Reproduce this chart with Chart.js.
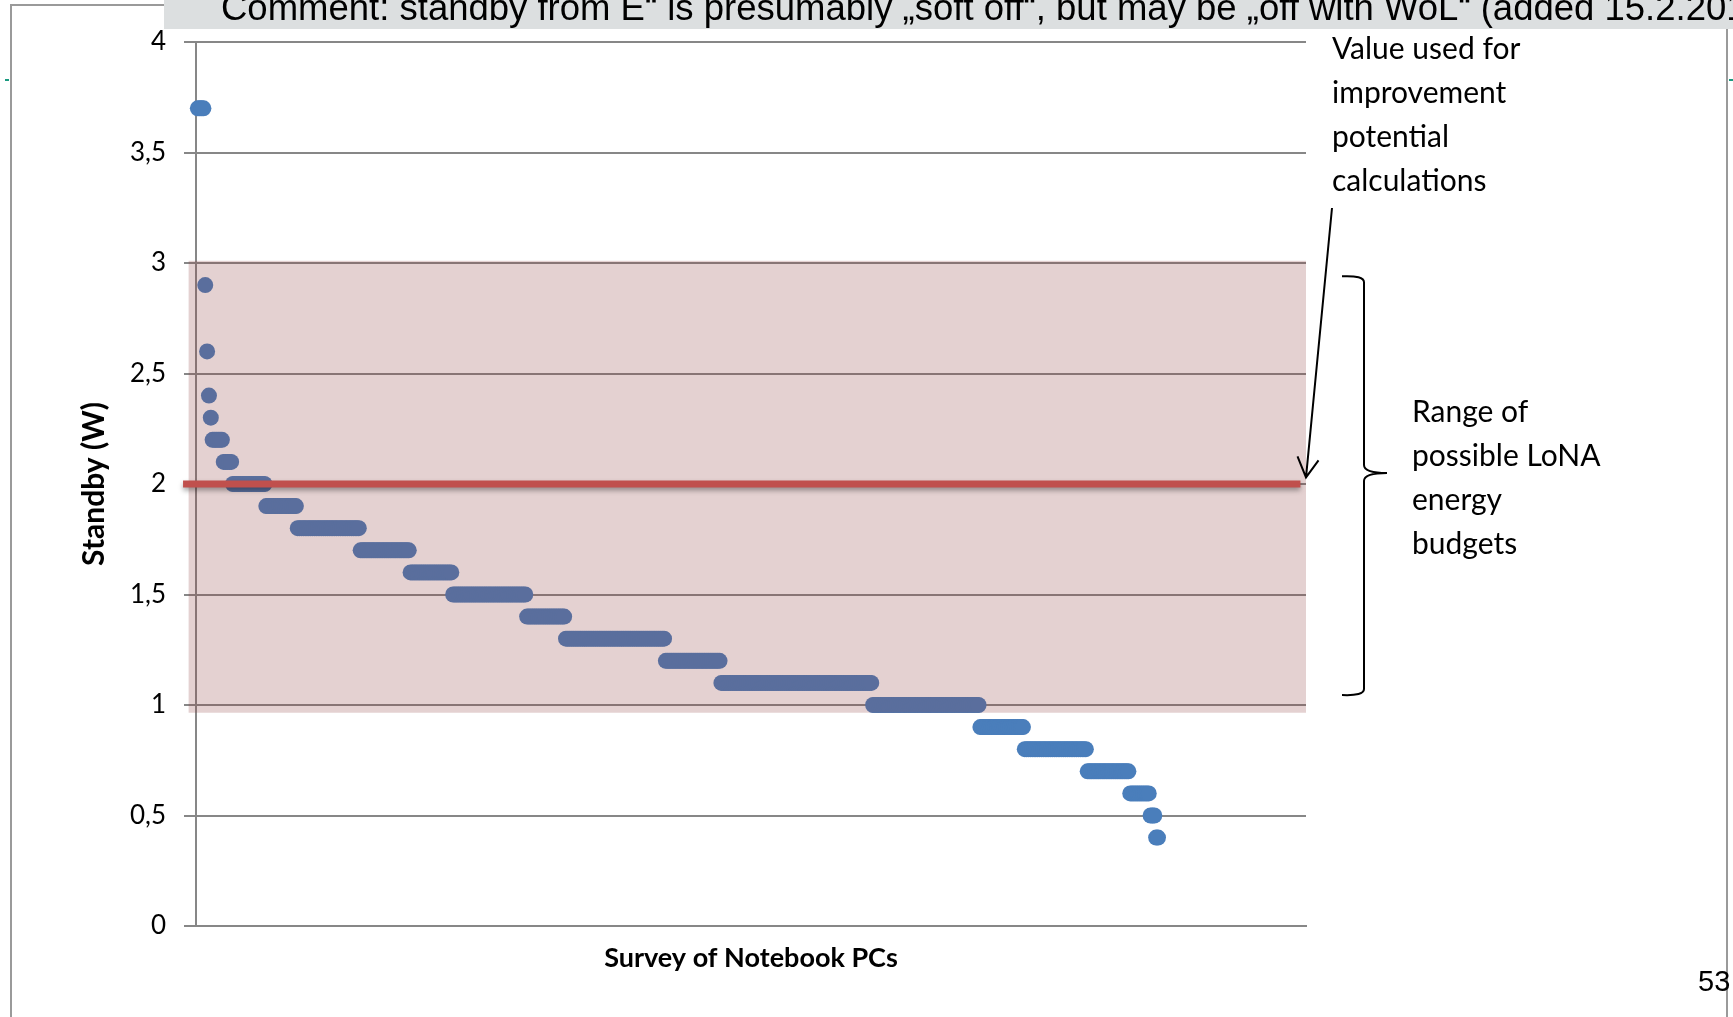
<!DOCTYPE html>
<html>
<head>
<meta charset="utf-8">
<script src="https://cdn.jsdelivr.net/npm/chart.js@4.4.1/dist/chart.umd.min.js"></script>
<style>
  html, body { margin: 0; padding: 0; background: #fff; overflow: hidden; }
  canvas { display: block; }
</style>
</head>
<body>
<canvas id="standbyChart" width="1733" height="1017"></canvas>
<script>
// standby levels (W), sorted high to low, and how many notebooks sit on each level
const standbyLevels  = [3.7, 2.9, 2.6, 2.4, 2.3, 2.2, 2.1, 2.0, 1.9, 1.8, 1.7, 1.6, 1.5, 1.4, 1.3, 1.2, 1.1, 1.0, 0.9, 0.8, 0.7, 0.6, 0.5, 0.4];
const notebookCounts = [4,   1,   1,   1,   1,   6,   5,   18,  17,  34,  27,  23,  40,  21,  54,  30,  82,  58,  24,  34,  23,  11,  3,   2];

const yTickValues = [0, 0.5, 1, 1.5, 2, 2.5, 3, 3.5, 4];
const chosenValue = 2;               // value used for improvement potential
const chosenSpan = [-7, 597];        // survey index range of the red line
const budgetRange = [0.965, 3.01];   // range of possible LoNA energy budgets (W)
const budgetSpan = [-4, 600];

const annotationTop = ['Value used for', 'improvement', 'potential', 'calculations'];
const annotationRange = ['Range of', 'possible LoNA', 'energy', 'budgets'];
const commentText = 'Comment: standby from E\u201C is presumably \u201Esoft off\u201C, but may be \u201Eoff with WoL\u201C (added 15.2.2010)';

// one point per surveyed notebook
const surveyPoints = [];
let idx = 0;
standbyLevels.forEach((level, i) => {
    for (let k = 0; k < notebookCounts[i]; k++) {
        idx++;
        surveyPoints.push({ x: idx, y: level });
    }
});

const FONT = 'Lato, "Open Sans", sans-serif';

const overlayPlugin = {
    id: 'overlay',
    beforeDatasetDraw(chart, args) {
        if (args.index === 0) {
            // soft shadow under the red line
            chart.ctx.save();
            chart.ctx.shadowColor = 'rgba(0,0,0,0.35)';
            chart.ctx.shadowBlur = 5;
            chart.ctx.shadowOffsetY = 3;
        }
    },
    afterDatasetDraw(chart, args) {
        const { ctx, scales: { x, y } } = chart;
        if (args.index === 0) {
            ctx.restore();
            return;
        }
        if (args.index === 1) {
            // translucent band drawn over the points, under the red line
            const left = x.getPixelForValue(budgetSpan[0]);
            const right = x.getPixelForValue(budgetSpan[1]);
            const top = y.getPixelForValue(budgetRange[1]);
            const bottom = y.getPixelForValue(budgetRange[0]);
            ctx.save();
            ctx.fillStyle = 'rgba(141, 62, 62, 0.24)';
            ctx.fillRect(left, top, right - left, bottom - top);
            ctx.restore();
        }
    },
    afterDraw(chart) {
        const { ctx, chartArea, scales: { y } } = chart;
        const W = chart.width, H = chart.height;
        ctx.save();

        // slide frame
        ctx.strokeStyle = '#9a9a9a';
        ctx.lineWidth = 2;
        ctx.beginPath();
        ctx.moveTo(11, 5); ctx.lineTo(11, H);
        ctx.moveTo(10, 5); ctx.lineTo(165, 5);
        ctx.moveTo(1727, 29); ctx.lineTo(1727, H);
        ctx.stroke();
        ctx.strokeStyle = '#1a9a80';
        ctx.beginPath();
        ctx.moveTo(5, 80); ctx.lineTo(9, 80);
        ctx.moveTo(1729, 80); ctx.lineTo(1733, 80);
        ctx.stroke();

        // comment bar, cut at the top
        ctx.fillStyle = '#dcdfe0';
        ctx.fillRect(164, 0, W - 164, 29);
        ctx.save();
        ctx.beginPath();
        ctx.rect(164, 0, W - 164, 29);
        ctx.clip();
        ctx.fillStyle = '#000';
        ctx.font = '36.5px "Liberation Sans", Arial, sans-serif';
        ctx.textBaseline = 'alphabetic';
        ctx.fillText(commentText, 221, 20);
        ctx.restore();

        // page number
        ctx.fillStyle = '#000';
        ctx.font = '29px "Liberation Sans", Arial, sans-serif';
        ctx.fillText('53', 1698, 991);

        // text annotations
        const ax = chartArea.right;
        ctx.font = '30px ' + FONT;
        annotationTop.forEach((t, i) => ctx.fillText(t, ax + 26, 59 + i * 44));
        annotationRange.forEach((t, i) => ctx.fillText(t, ax + 106, 422 + i * 44));

        // arrow to the red line
        const tipY = y.getPixelForValue(2.03);
        ctx.strokeStyle = '#000';
        ctx.lineWidth = 2;
        ctx.beginPath();
        ctx.moveTo(ax + 26, 208);
        ctx.lineTo(ax, tipY);
        ctx.moveTo(ax - 8.5, tipY - 21);
        ctx.lineTo(ax, tipY);
        ctx.lineTo(ax + 12.5, tipY - 17);
        ctx.stroke();

        // curly brace
        const bTop = y.getPixelForValue(2.94);
        const bBot = y.getPixelForValue(1.045);
        const bMid = y.getPixelForValue(2.05);
        const bx = ax + 58, bl = ax + 36, br = ax + 81;
        ctx.beginPath();
        ctx.moveTo(bl, bTop);
        ctx.quadraticCurveTo(bx, bTop - 1, bx, bTop + 6);
        ctx.lineTo(bx, bMid - 8);
        ctx.quadraticCurveTo(bx, bMid, br, bMid);
        ctx.moveTo(br, bMid);
        ctx.quadraticCurveTo(bx, bMid, bx, bMid + 8);
        ctx.lineTo(bx, bBot - 6);
        ctx.quadraticCurveTo(bx, bBot + 1, bl, bBot);
        ctx.stroke();

        ctx.restore();
    }
};

new Chart(document.getElementById('standbyChart'), {
    type: 'scatter',
    data: {
        datasets: [
            {
                label: 'Value used',
                data: chosenSpan.map(v => ({ x: v, y: chosenValue })),
                showLine: true,
                borderColor: '#c0504d',
                borderWidth: 7,
                borderCapStyle: 'butt',
                pointRadius: 0,
                pointHoverRadius: 0,
                clip: false,
                order: 0
            },
            {
                label: 'Notebook PCs',
                data: surveyPoints,
                backgroundColor: '#4a7ebb',
                borderColor: '#4a7ebb',
                borderWidth: 0,
                pointRadius: 8,
                pointHoverRadius: 8,
                clip: false,
                order: 1
            }
        ]
    },
    options: {
        responsive: false,
        animation: false,
        events: [],
        layout: { padding: { top: 42, right: 427, bottom: 0, left: 0 } },
        plugins: {
            legend: { display: false },
            tooltip: { enabled: false }
        },
        scales: {
            x: {
                type: 'linear',
                min: 0,
                max: 600,
                ticks: { display: false },
                grid: { display: false },
                border: { display: true, color: '#878787', width: 2 },
                title: {
                    display: true,
                    text: 'Survey of Notebook PCs',
                    color: '#000',
                    font: { family: FONT, size: 27, weight: 'bold' },
                    padding: { top: 0, bottom: 43 }
                },
                afterFit: s => { s.height = 91; }
            },
            y: {
                min: 0,
                max: 4,
                afterBuildTicks: s => { s.ticks = yTickValues.map(v => ({ value: v })); },
                ticks: {
                    color: '#000',
                    padding: 18,
                    font: { family: FONT, size: 26 },
                    callback: v => String(v).replace('.', ',')
                },
                grid: { color: '#878787', lineWidth: 2, tickLength: 12 },
                border: { color: '#878787', width: 2 },
                title: {
                    display: true,
                    text: 'Standby (W)',
                    color: '#000',
                    font: { family: FONT, size: 30, weight: 'bold' },
                    padding: { top: 76, bottom: 0 }
                },
                afterFit: s => { s.width = 196; }
            }
        }
    },
    plugins: [overlayPlugin]
});
</script>
</body>
</html>
